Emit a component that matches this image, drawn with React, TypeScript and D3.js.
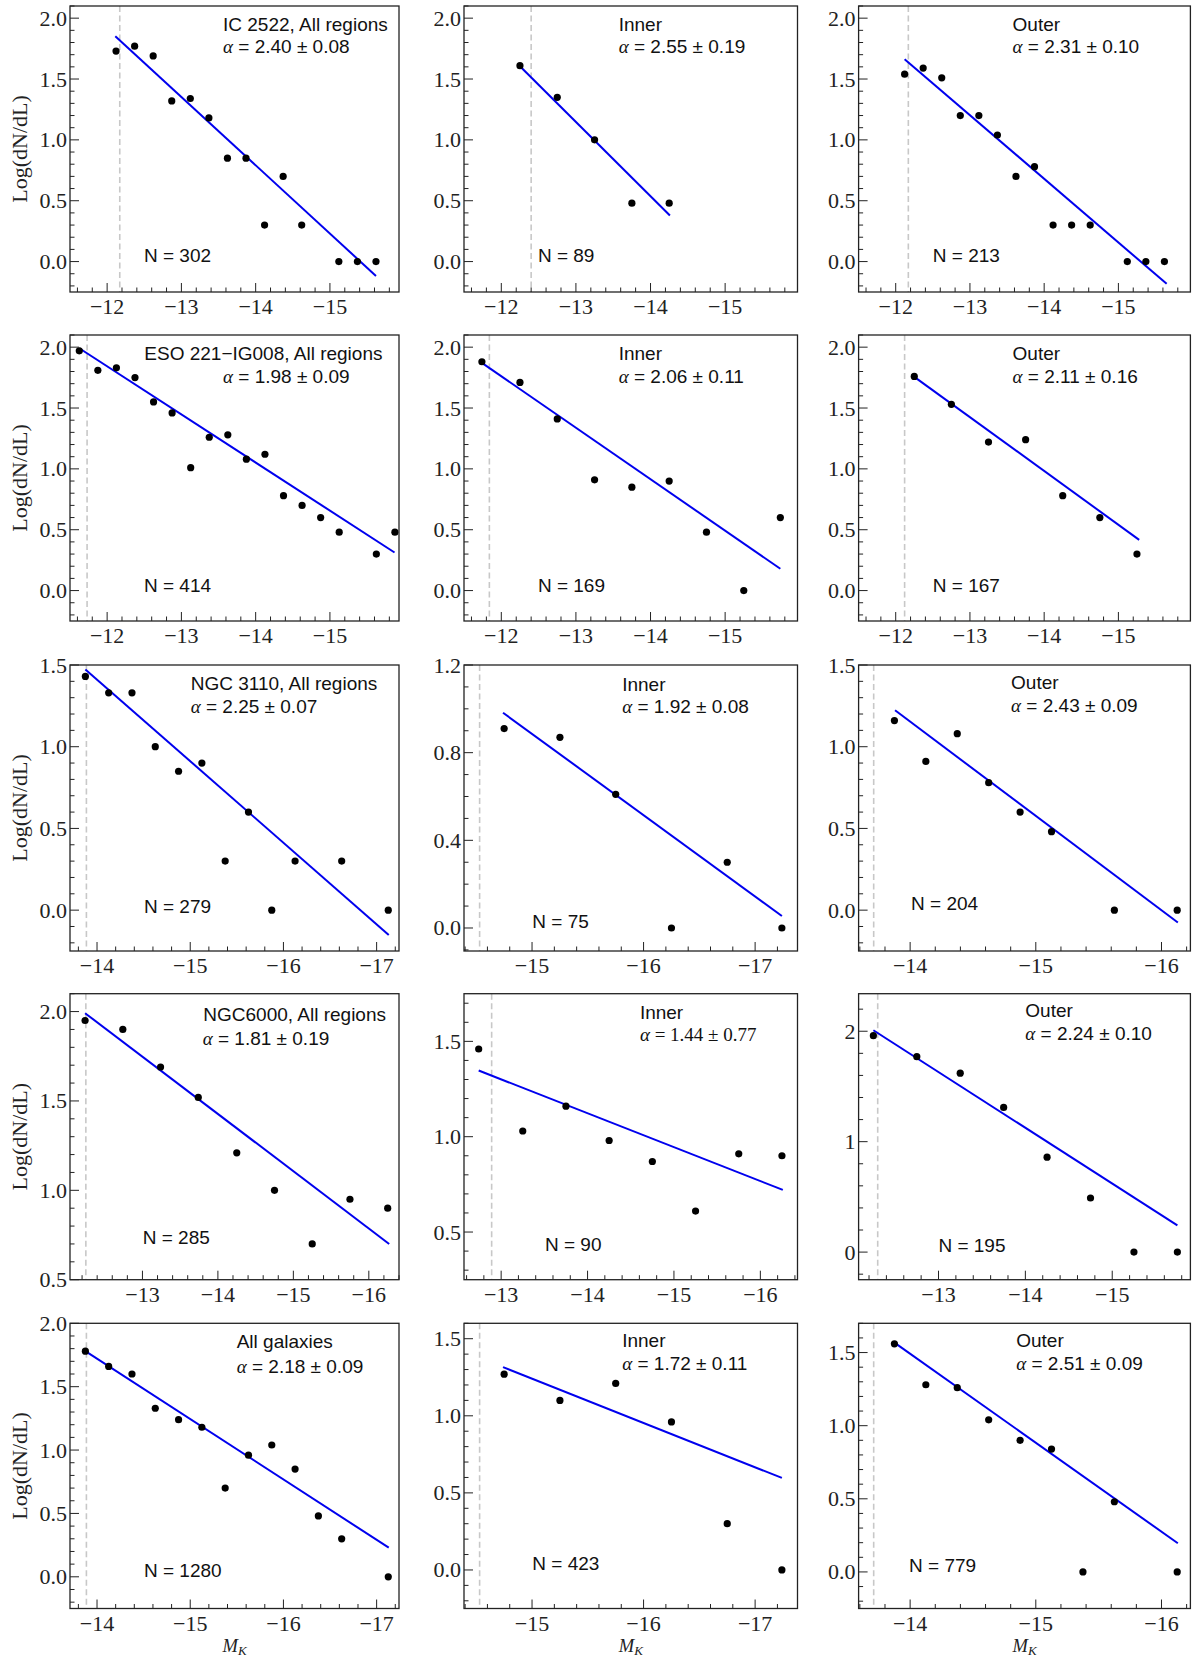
import React from 'react';
import * as d3 from 'd3';

// ---------------- DATA ----------------
// Row 1: IC 2522
const ic2522AllX = [-12.12, -12.37, -12.62, -12.87, -13.12, -13.37, -13.62, -13.87, -14.12, -14.37, -14.62, -15.12, -15.37, -15.62];
const ic2522AllY = [1.73, 1.77, 1.69, 1.32, 1.34, 1.18, 0.85, 0.85, 0.30, 0.70, 0.30, 0, 0, 0];
const ic2522InX = [-12.25, -12.75, -13.25, -13.75, -14.25];
const ic2522InY = [1.61, 1.35, 1.0, 0.48, 0.48];
const ic2522OutX = [-12.12, -12.37, -12.62, -12.87, -13.12, -13.37, -13.62, -13.87, -14.12, -14.37, -14.62, -15.12, -15.37, -15.62];
const ic2522OutY = [1.54, 1.59, 1.51, 1.20, 1.20, 1.04, 0.70, 0.78, 0.30, 0.30, 0.30, 0, 0, 0];

// Row 2: ESO 221-IG008
const esoAllX = [-11.625, -11.875, -12.125, -12.375, -12.625, -12.875, -13.125, -13.375, -13.625, -13.875, -14.125, -14.375, -14.625, -14.875, -15.125, -15.625, -15.875];
const esoAllY = [1.97, 1.81, 1.83, 1.75, 1.55, 1.46, 1.01, 1.26, 1.28, 1.08, 1.12, 0.78, 0.70, 0.60, 0.48, 0.30, 0.48];
const esoInX = [-11.74, -12.25, -12.75, -13.25, -13.75, -14.25, -14.75, -15.25, -15.74];
const esoInY = [1.88, 1.71, 1.41, 0.91, 0.85, 0.90, 0.48, 0.0, 0.60];
const esoOutX = [-12.25, -12.75, -13.25, -13.75, -14.25, -14.75, -15.25];
const esoOutY = [1.76, 1.53, 1.22, 1.24, 0.78, 0.60, 0.30];

// Row 3: NGC 3110
const n3110AllX = [-13.875, -14.125, -14.375, -14.625, -14.875, -15.125, -15.375, -15.625, -15.875, -16.125, -16.625, -17.125];
const n3110AllY = [1.43, 1.33, 1.33, 1.00, 0.85, 0.90, 0.30, 0.60, 0, 0.30, 0.30, 0];
const n3110InX = [-14.75, -15.25, -15.75, -16.25, -16.75, -17.24];
const n3110InY = [0.91, 0.87, 0.61, 0.0, 0.30, 0.0];
const n3110OutX = [-13.875, -14.125, -14.375, -14.625, -14.875, -15.125, -15.625, -16.125];
const n3110OutY = [1.16, 0.91, 1.08, 0.78, 0.60, 0.48, 0, 0];

// Row 4: NGC6000
const n6000AllX = [-12.24, -12.74, -13.24, -13.74, -14.25, -14.75, -15.25, -15.75, -16.25];
const n6000AllY = [1.95, 1.90, 1.69, 1.52, 1.21, 1.00, 0.70, 0.95, 0.90];
const n6000InX = [-12.74, -13.25, -13.75, -14.25, -14.75, -15.25, -15.75, -16.25];
const n6000InY = [1.46, 1.03, 1.16, 0.98, 0.87, 0.61, 0.91, 0.90];
const n6000OutX = [-12.25, -12.75, -13.25, -13.75, -14.25, -14.75, -15.25, -15.75];
const n6000OutY = [1.96, 1.77, 1.62, 1.31, 0.86, 0.49, 0, 0];

// Row 5: All galaxies
const allAllX = [-13.875, -14.125, -14.375, -14.625, -14.875, -15.125, -15.375, -15.625, -15.875, -16.125, -16.375, -16.625, -17.125];
const allAllY = [1.78, 1.66, 1.60, 1.33, 1.24, 1.18, 0.70, 0.96, 1.04, 0.85, 0.48, 0.30, 0];
const allInX = [-14.75, -15.25, -15.75, -16.25, -16.75, -17.24];
const allInY = [1.27, 1.10, 1.21, 0.96, 0.30, 0];
const allOutX = [-13.875, -14.125, -14.375, -14.625, -14.875, -15.125, -15.375, -15.625, -16.125];
const allOutY = [1.56, 1.28, 1.26, 1.04, 0.90, 0.84, 0, 0.48, 0];

// Fitted power-law lines (endpoints in data units)
const fitX = [
  [-12.11, -15.62], [-12.25, -14.26], [-12.12, -15.65],
  [-11.63, -15.87], [-11.74, -15.74], [-12.25, -15.28],
  [-13.875, -17.13], [-14.74, -17.24], [-13.88, -16.13],
  [-12.24, -16.27], [-12.74, -16.26], [-12.25, -15.75],
  [-13.875, -17.13], [-14.74, -17.24], [-13.875, -16.13],
];
const fitY = [
  [1.852, -0.118], [1.605, 0.378], [1.663, -0.183],
  [1.989, 0.313], [1.871, 0.179], [1.756, 0.417],
  [1.473, -0.152], [0.982, 0.055], [1.223, -0.076],
  [1.991, 0.70], [1.347, 0.721], [2.009, 0.242],
  [1.781, 0.23], [1.316, 0.597], [1.568, 0.196],
];
// Completeness limits (dashed lines)
const cutoffs = [-12.17, -12.40, -12.17, -11.73, -11.84, -12.12, -13.886, -14.53, -13.71, -12.25, -12.89, -12.30, -13.886, -14.53, -13.71];

const titles = [
  'IC 2522, All regions', 'Inner', 'Outer',
  'ESO 221\u2212IG008, All regions', 'Inner', 'Outer',
  'NGC 3110, All regions', 'Inner', 'Outer',
  'NGC6000, All regions', 'Inner', 'Outer',
  'All galaxies', 'Inner', 'Outer',
];
const alphas = [
  '2.40 \u00b1 0.08', '2.55 \u00b1 0.19', '2.31 \u00b1 0.10',
  '1.98 \u00b1 0.09', '2.06 \u00b1 0.11', '2.11 \u00b1 0.16',
  '2.25 \u00b1 0.07', '1.92 \u00b1 0.08', '2.43 \u00b1 0.09',
  '1.81 \u00b1 0.19', '1.44 \u00b1 0.77', '2.24 \u00b1 0.10',
  '2.18 \u00b1 0.09', '1.72 \u00b1 0.11', '2.51 \u00b1 0.09',
];
const counts = [302, 89, 213, 414, 169, 167, 279, 75, 204, 285, 90, 195, 1280, 423, 779];

// Axis limits
const xDomains = [
  [-11.5, -15.93], [-11.5, -15.97], [-11.5, -15.97],
  [-11.5, -15.93], [-11.5, -15.97], [-11.5, -15.97],
  [-13.71, -17.24], [-14.39, -17.38], [-13.59, -16.23],
  [-12.04, -16.4], [-12.57, -16.43], [-12.08, -15.9],
  [-13.71, -17.24], [-14.39, -17.38], [-13.59, -16.23],
];
const yDomains = [
  [-0.25, 2.1], [-0.25, 2.1], [-0.25, 2.1],
  [-0.25, 2.1], [-0.25, 2.1], [-0.25, 2.1],
  [-0.25, 1.5], [-0.105, 1.2], [-0.25, 1.5],
  [0.5, 2.1], [0.25, 1.75], [-0.25, 2.34],
  [-0.25, 2.0], [-0.25, 1.6], [-0.25, 1.7],
];
const yTicksHalf = [0, 0.5, 1.0, 1.5, 2.0];
const yTicksR3C2 = [0, 0.4, 0.8, 1.2];
const yTicksInt = [0, 1, 2];
const yTickSets = [
  yTicksHalf, yTicksHalf, yTicksHalf,
  yTicksHalf, yTicksHalf, yTicksHalf,
  yTicksHalf, yTicksR3C2, yTicksHalf,
  yTicksHalf, yTicksHalf, yTicksInt,
  yTicksHalf, yTicksHalf, yTicksHalf,
];
const yTickDigits = [1, 1, 1, 1, 1, 1, 1, 1, 1, 1, 1, 0, 1, 1, 1];
const yMinorSteps = [0.1, 0.1, 0.1, 0.1, 0.1, 0.1, 0.1, 0.1, 0.1, 0.1, 0.1, 0.2, 0.1, 0.1, 0.1];

const seriesX = [ic2522AllX, ic2522InX, ic2522OutX, esoAllX, esoInX, esoOutX, n3110AllX, n3110InX, n3110OutX, n6000AllX, n6000InX, n6000OutX, allAllX, allInX, allOutX];
const seriesY = [ic2522AllY, ic2522InY, ic2522OutY, esoAllY, esoInY, esoOutY, n3110AllY, n3110InY, n3110OutY, n6000AllY, n6000InY, n6000OutY, allAllY, allInY, allOutY];

// ---------------- LAYOUT ----------------
const colLeft = [70, 464, 858.6];
const colRight = [399, 797.5, 1190.4];
const rowTop = [6, 335, 665, 993.7, 1323.3];
const rowBottom = [292, 621, 951, 1279.7, 1608.5];
// text offsets: [titleX, alphaX, nX, titleY, alphaY, nY] relative to frame left/top
const textLayout = [
  [153, 153, 74, 24.7, 47.3, 256], [154.7, 154.7, 73.9, 24.7, 46.7, 255.7], [154, 154, 74.2, 24.7, 46.7, 255.7],
  [74.3, 153, 74, 25, 47.7, 256.5], [154.7, 154.7, 73.9, 25, 47.7, 256.5], [154, 154, 74.2, 25, 47.7, 256.5],
  [120.7, 120.7, 74, 25, 48.3, 248.3], [158.2, 158.2, 68.3, 25.7, 48.3, 263.3], [152.5, 152.5, 52.5, 24.3, 46.7, 245],
  [133.3, 132.7, 72.7, 27.6, 51, 250], [175.9, 175.9, 81, 25, 47.6, 257.6], [166.7, 166.7, 79.8, 23.6, 46, 258.3],
  [166.7, 166.7, 74, 25, 50, 254], [158.2, 158.2, 68.3, 23.4, 46.7, 246.7], [157.6, 157.6, 50.5, 23.4, 46.7, 248.4],
];

const SERIF = "'Liberation Serif', 'DejaVu Serif', serif";
const SANS = "'Liberation Sans', Arial, sans-serif";
const fmtMinus = (s: string) => s.replace('-', '\u2212');

function Panel({ i }: { i: number }) {
  const row = Math.floor(i / 3);
  const col = i % 3;
  const x0 = colLeft[col], x1 = colRight[col];
  const y0 = rowTop[row], y1 = rowBottom[row];
  const xs = d3.scaleLinear().domain(xDomains[i]).range([x0, x1]);
  const ys = d3.scaleLinear().domain(yDomains[i]).range([y1, y0]);
  const [xa, xb] = xDomains[i];
  const xmin = Math.min(xa, xb), xmax = Math.max(xa, xb);
  const xMajor = d3.range(Math.ceil(xmin), Math.floor(xmax) + 1);
  const xMinor: number[] = [];
  for (let k = Math.ceil(xmin * 5); k <= Math.floor(xmax * 5); k++) {
    if (k % 5 !== 0) xMinor.push(k / 5);
  }
  const [ya, yb] = yDomains[i];
  const yMajor = yTickSets[i].filter((t) => t >= ya - 1e-9 && t <= yb + 1e-9);
  const step = yMinorSteps[i];
  const yMinor: number[] = [];
  for (let k = Math.ceil(ya / step - 1e-6); k <= Math.floor(yb / step + 1e-6); k++) {
    const v = k * step;
    if (!yTickSets[i].some((t) => Math.abs(t - v) < 1e-6)) yMinor.push(v);
  }
  const lay = textLayout[i];
  const lineGen = d3.line<[number, number]>().x((d) => xs(d[0])).y((d) => ys(d[1]));
  const fitPts: [number, number][] = fitX[i].map((v, k) => [v, fitY[i][k]]);
  const serifAlpha = i === 10;
  const clipId = `clip${i}`;
  return (
    <g>
      <defs>
        <clipPath id={clipId}>
          <rect x={x0} y={y0} width={x1 - x0} height={y1 - y0} />
        </clipPath>
      </defs>
      {/* cutoff */}
      <line x1={xs(cutoffs[i])} x2={xs(cutoffs[i])} y1={y0} y2={y1} stroke="#c8c8c8" strokeWidth={1.6} strokeDasharray="6,3.5" />
      {/* fit */}
      <path d={lineGen(fitPts) || ''} stroke="#0000ee" strokeWidth={2} fill="none" clipPath={`url(#${clipId})`} />
      {/* points */}
      {seriesX[i].map((v, k) => (
        <circle key={k} cx={xs(v)} cy={ys(seriesY[i][k])} r={3.6} fill="#000" />
      ))}
      {/* ticks */}
      {xMajor.map((t) => (
        <g key={'xm' + t}>
          <line x1={xs(t)} x2={xs(t)} y1={y1} y2={y1 - 9} stroke="#222" strokeWidth={1} />
          <text x={xs(t)} y={y1 + 22} textAnchor="middle" fontFamily={SERIF} fontSize={22} fill="#222">
            {fmtMinus(String(t))}
          </text>
        </g>
      ))}
      {xMinor.map((t) => (
        <line key={'xn' + t} x1={xs(t)} x2={xs(t)} y1={y1} y2={y1 - 4.5} stroke="#222" strokeWidth={1} />
      ))}
      {yMajor.map((t) => (
        <g key={'ym' + t}>
          <line x1={x0} x2={x0 + 9} y1={ys(t)} y2={ys(t)} stroke="#222" strokeWidth={1} />
          <text x={x0 - 3} y={ys(t) + 7.5} textAnchor="end" fontFamily={SERIF} fontSize={22} fill="#222">
            {t.toFixed(yTickDigits[i])}
          </text>
        </g>
      ))}
      {yMinor.map((t) => (
        <line key={'yn' + t} x1={x0} x2={x0 + 4.5} y1={ys(t)} y2={ys(t)} stroke="#222" strokeWidth={1} />
      ))}
      {/* frame */}
      <rect x={x0} y={y0} width={x1 - x0} height={y1 - y0} fill="none" stroke="#222" strokeWidth={1.3} />
      {/* annotations */}
      <text x={x0 + lay[0]} y={y0 + lay[3]} fontFamily={SANS} fontSize={19} fill="#111">
        {titles[i]}
      </text>
      <text x={x0 + lay[1]} y={y0 + lay[4]} fontFamily={serifAlpha ? SERIF : SANS} fontSize={19} fill="#111">
        <tspan fontFamily={SERIF} fontStyle="italic">{'\u03b1'}</tspan>
        <tspan>{' = ' + alphas[i]}</tspan>
      </text>
      <text x={x0 + lay[2]} y={y0 + lay[5]} fontFamily={SANS} fontSize={19} fill="#111">
        {'N = ' + counts[i]}
      </text>
      {col === 0 && (
        <text
          transform={`translate(22,${(y0 + y1) / 2}) rotate(-90)`}
          textAnchor="middle"
          dominantBaseline="middle"
          fontFamily={SERIF}
          fontSize={22}
          fill="#222"
        >
          Log(dN/dL)
        </text>
      )}
      {row === 4 && (
        <text x={(x0 + x1) / 2} y={1651.5} textAnchor="middle" fontFamily={SERIF} fontSize={18.5} fill="#222">
          <tspan fontStyle="italic">M</tspan>
          <tspan fontStyle="italic" fontSize={13} dy={3}>K</tspan>
        </text>
      )}
    </g>
  );
}

export default function App() {
  return (
    <svg
      width={1192}
      height={1656}
      viewBox="0 0 1192 1656"
      style={{ position: 'absolute', left: 0, top: 0, background: '#fff' }}
    >
      <rect x={0} y={0} width={1192} height={1656} fill="#fff" />
      {d3.range(15).map((i) => (
        <Panel key={i} i={i} />
      ))}
    </svg>
  );
}
